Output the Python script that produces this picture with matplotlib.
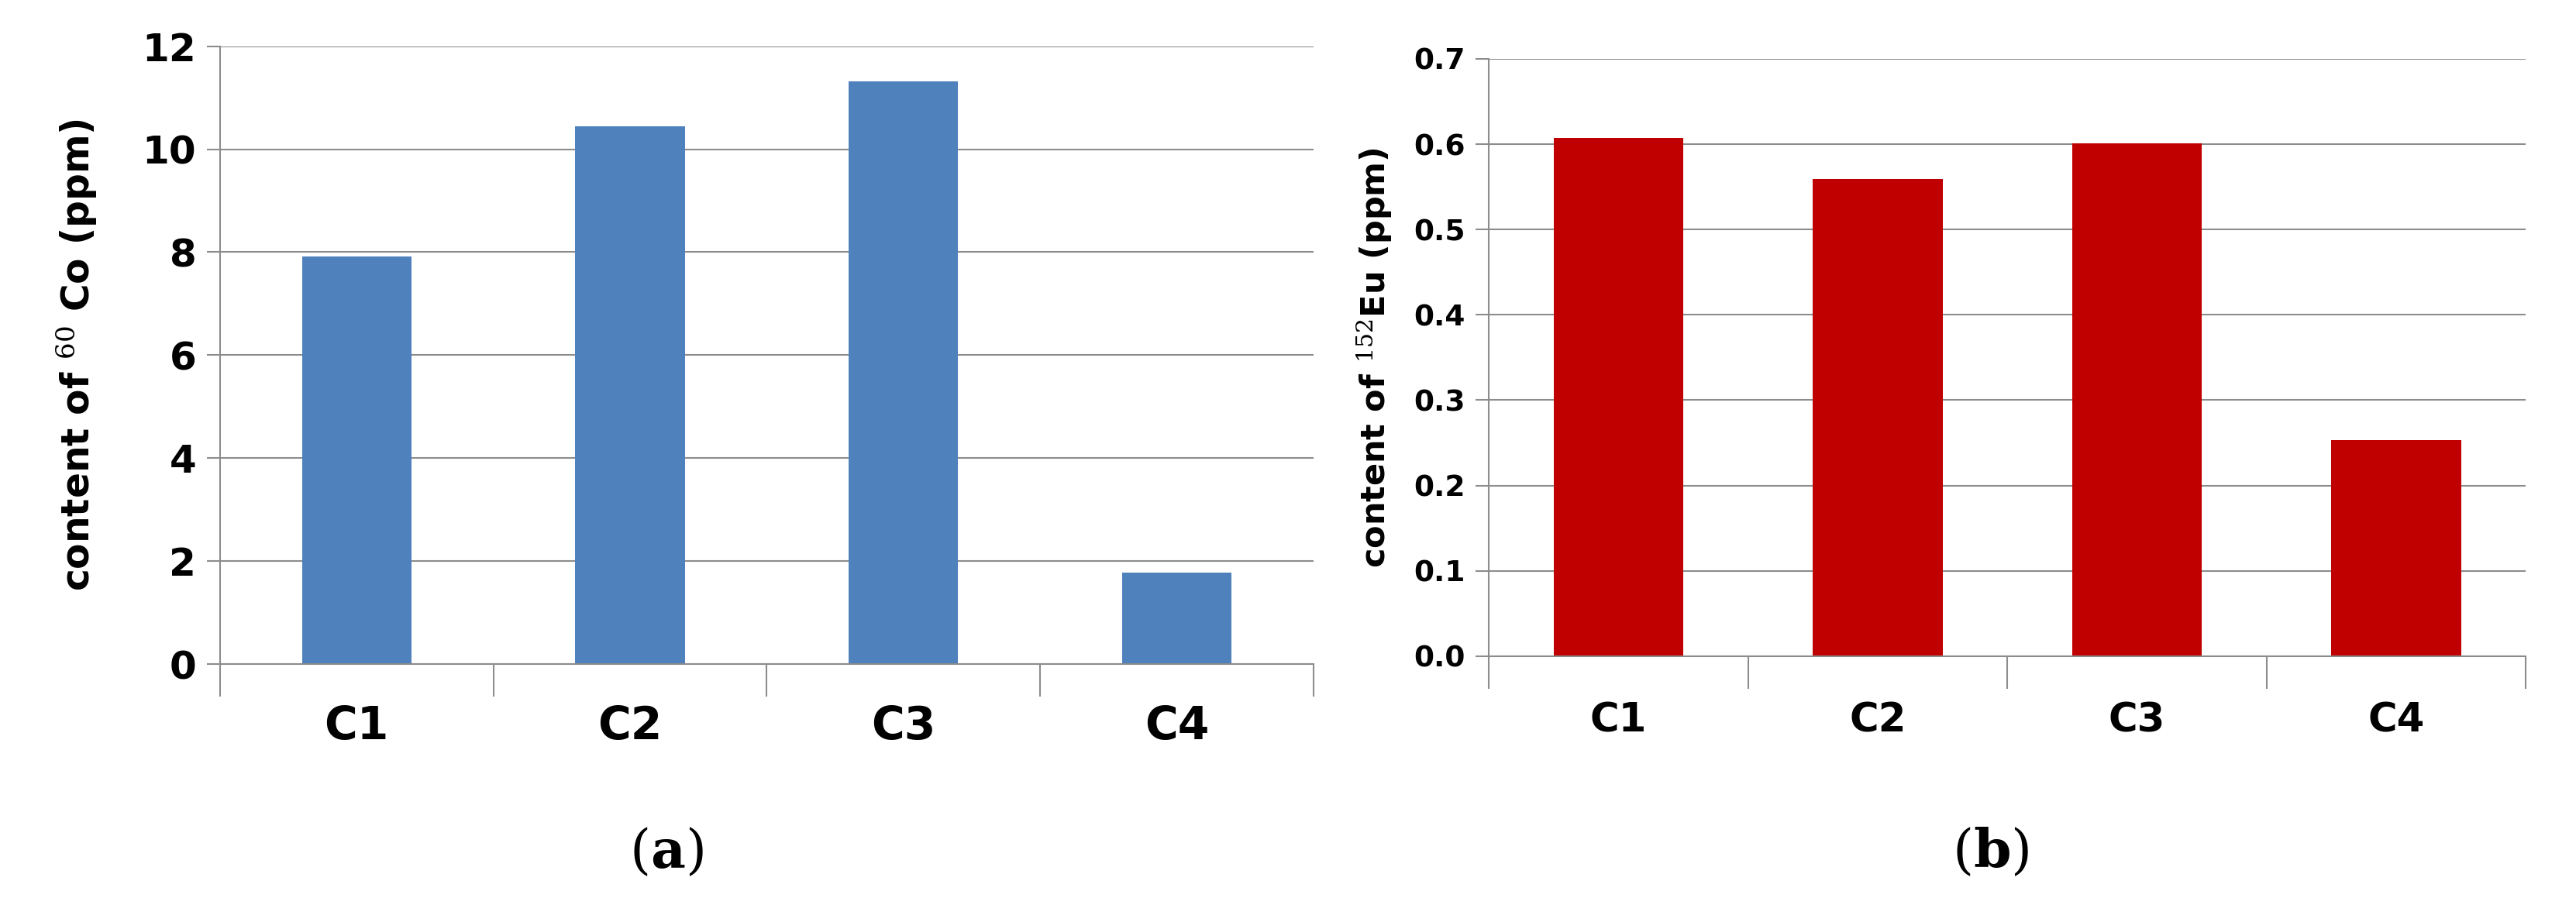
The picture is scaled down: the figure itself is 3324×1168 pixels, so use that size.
import matplotlib
matplotlib.use('Agg')
import matplotlib.pyplot as plt

categories = ['C1', 'C2', 'C3', 'C4']
co60_ppm = [7.92, 10.44, 11.31, 1.78]
eu152_ppm = [0.607, 0.559, 0.601, 0.253]

tick_font = ['Liberation Sans Narrow', 'DejaVu Sans']
grid_col = '#8c8c8c'
plt.rcParams['mathtext.fontset'] = 'dejavuserif'

fig = plt.figure(figsize=(33.24, 11.68), dpi=100)


def style_axes(ax, ymax, step, fmt, tick_size, cat_size, cat_y):
    x = range(len(categories))
    ax.set_xlim(-0.5, len(categories) - 0.5)
    ax.set_ylim(0, ymax)
    yt = [i * step for i in range(int(round(ymax / step)) + 1)]
    ax.set_yticks(yt)
    ax.set_yticklabels([fmt.format(v) for v in yt], fontsize=tick_size,
                       fontweight='bold', family=tick_font)
    ax.yaxis.grid(True, color=grid_col, linewidth=1.5)
    ax.set_axisbelow(True)
    for s in ['top', 'right']:
        ax.spines[s].set_visible(False)
    for s in ['left', 'bottom']:
        ax.spines[s].set_color(grid_col)
        ax.spines[s].set_linewidth(1.5)
    ax.tick_params(axis='y', length=12, width=1.5, color=grid_col, pad=10)
    # category boundary ticks
    ax.set_xticks([i - 0.5 for i in range(len(categories) + 1)])
    ax.set_xticklabels([])
    ax.tick_params(axis='x', length=30, width=1.5, color=grid_col)
    for i, c in zip(x, categories):
        ax.text(i, cat_y, c, transform=ax.get_xaxis_transform(), ha='center',
                va='center', fontsize=cat_size, fontweight='bold', family=tick_font)


ax1 = fig.add_axes([0.0854, 0.266, 0.4245, 0.683])
ax1.bar(range(len(categories)), co60_ppm, width=0.4, color='#4F81BD')
style_axes(ax1, 12, 2, '{:.0f}', 36, 42, -0.10)
ax1.set_ylabel('content of $^{60}$ Co (ppm)', fontsize=35, fontweight='bold', labelpad=40)

ax2 = fig.add_axes([0.578, 0.275, 0.4025, 0.660])
ax2.bar(range(len(categories)), eu152_ppm, width=0.5, color='#C00000')
style_axes(ax2, 0.7, 0.1, '{:.1f}', 27, 37, -0.108)
ax2.set_ylabel('content of $^{152}$Eu (ppm)', fontsize=31, fontweight='bold', labelpad=18)

fig.text(860 / 3324, 1 - 1100 / 1168, r'($\mathbf{a}$)', fontsize=50,
         family='DejaVu Serif', ha='center', va='center')
fig.text(2569 / 3324, 1 - 1100 / 1168, r'($\mathbf{b}$)', fontsize=50,
         family='DejaVu Serif', ha='center', va='center')

fig.savefig('out.png', dpi=100, facecolor='white')
